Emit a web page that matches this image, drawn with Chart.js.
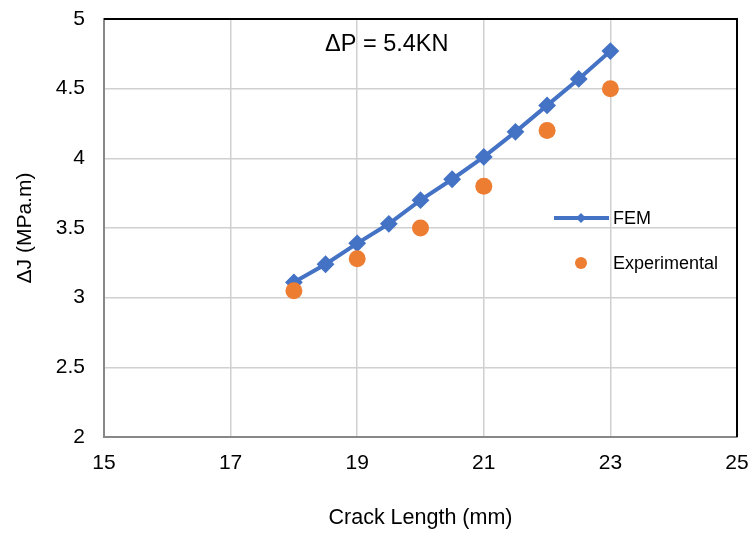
<!DOCTYPE html>
<html>
<head>
<meta charset="utf-8">
<script src="https://cdn.jsdelivr.net/npm/chart.js@4.4.0/dist/chart.umd.min.js"></script>
<style>
    body { margin: 0; background: #fff; }
    #wrap { width: 749px; height: 534px; }
</style>
</head>
<body>
<div id="wrap"><canvas id="jChart" width="749" height="534"></canvas></div>
<script>
// crack length (mm) and delta-J values
const femLength = [18, 18.5, 19, 19.5, 20, 20.5, 21, 21.5, 22, 22.5, 23];
const femJ = [3.11, 3.24, 3.39, 3.53, 3.70, 3.85, 4.01, 4.19, 4.38, 4.57, 4.77];
const expLength = [18, 19, 20, 21, 22, 23];
const expJ = [3.05, 3.28, 3.50, 3.80, 4.20, 4.50];
const seriesNames = ['FEM', 'Experimental'];
const loadLabel = '\u0394P = 5.4KN';

const FONT = '"Liberation Sans", Arial, sans-serif';
const BLUE = '#4472C4';
const ORANGE = '#ED7D31';

function toPoints(xs, ys) {
    return xs.map((x, i) => ({ x: x, y: ys[i] }));
}

// plot frame, load note and the legend inside the plot
const extras = {
    id: 'extras',
    afterDraw(chart) {
        const { ctx, chartArea: a } = chart;
        ctx.save();
        ctx.strokeStyle = '#000';
        ctx.lineWidth = 2;
        ctx.beginPath();
        ctx.moveTo(a.left, a.top);
        ctx.lineTo(a.right, a.top);
        ctx.lineTo(a.right, a.bottom);
        ctx.stroke();

        ctx.fillStyle = '#000';
        ctx.textBaseline = 'middle';
        ctx.textAlign = 'left';
        ctx.font = '23.5px ' + FONT;
        ctx.fillText(loadLabel, 325, 45);

        ctx.font = '18px ' + FONT;
        // FEM entry
        ctx.strokeStyle = BLUE;
        ctx.lineWidth = 4;
        ctx.beginPath();
        ctx.moveTo(554, 218);
        ctx.lineTo(609, 218);
        ctx.stroke();
        ctx.fillStyle = BLUE;
        ctx.beginPath();
        ctx.moveTo(581, 213);
        ctx.lineTo(586, 218);
        ctx.lineTo(581, 223);
        ctx.lineTo(576, 218);
        ctx.closePath();
        ctx.fill();
        ctx.fillStyle = '#000';
        ctx.fillText(seriesNames[0], 613, 219);
        // Experimental entry
        ctx.fillStyle = ORANGE;
        ctx.beginPath();
        ctx.arc(581, 263, 6, 0, Math.PI * 2);
        ctx.fill();
        ctx.fillStyle = '#000';
        ctx.fillText(seriesNames[1], 613, 264);
        ctx.restore();
    }
};

new Chart(document.getElementById('jChart'), {
    type: 'scatter',
    data: {
        datasets: [
            {
                label: seriesNames[0],
                data: toPoints(femLength, femJ),
                showLine: true,
                borderColor: BLUE,
                backgroundColor: BLUE,
                borderWidth: 4,
                pointStyle: 'rectRot',
                pointRadius: 7.5,
                pointBorderWidth: 2,
                order: 2
            },
            {
                // drawn over the FEM curve
                label: seriesNames[1],
                data: toPoints(expLength, expJ),
                borderColor: ORANGE,
                backgroundColor: ORANGE,
                pointRadius: 8.5,
                pointBorderWidth: 0,
                order: 1
            }
        ]
    },
    options: {
        responsive: false,
        animation: false,
        layout: { padding: { top: 19, right: 12, left: 0, bottom: 0 } },
        plugins: {
            legend: { display: false },
            tooltip: { enabled: false }
        },
        scales: {
            x: {
                type: 'linear',
                min: 15,
                max: 25,
                afterFit: (s) => {
                    s.height = 97;
                    s.paddingLeft = 0;
                    s.paddingRight = 0;
                },
                ticks: {
                    stepSize: 2,
                    padding: 14,
                    color: '#000',
                    font: { family: FONT, size: 21 }
                },
                grid: { color: '#d0d0d0', lineWidth: 1.5, drawTicks: false },
                border: { color: '#888', width: 2 },
                title: {
                    display: true,
                    text: 'Crack Length (mm)',
                    color: '#000',
                    font: { family: FONT, size: 21.5 },
                    padding: { top: 0, bottom: 3 }
                }
            },
            y: {
                min: 2,
                max: 5,
                afterFit: (s) => {
                    s.width = 104;
                    s.paddingTop = 0;
                    s.paddingBottom = 0;
                },
                ticks: {
                    stepSize: 0.5,
                    padding: 19,
                    color: '#000',
                    font: { family: FONT, size: 21 },
                    callback: (v) => String(v)
                },
                grid: { color: '#d0d0d0', lineWidth: 1.5, drawTicks: false },
                border: { color: '#888', width: 2 },
                title: {
                    display: true,
                    text: '\u0394J (MPa.m)',
                    color: '#000',
                    font: { family: FONT, size: 21 },
                    padding: { top: 13, bottom: 0 }
                }
            }
        }
    },
    plugins: [extras]
});
</script>
</body>
</html>
